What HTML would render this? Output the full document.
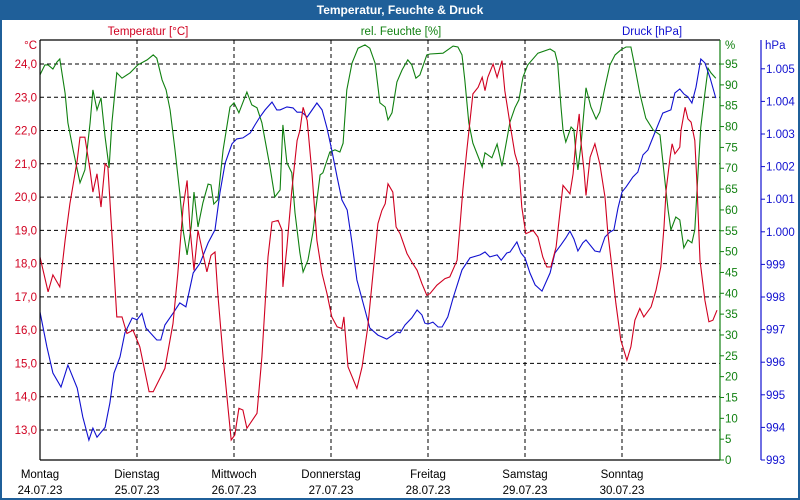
<!DOCTYPE html>
<html><head><meta charset="utf-8"><style>
body{margin:0;background:#fff;}
#wrap{position:relative;width:800px;height:500px;overflow:hidden;}
svg text{font-family:"Liberation Sans",sans-serif;}
</style></head><body>
<div id="wrap">
<svg id="c" width="800" height="500" xmlns="http://www.w3.org/2000/svg">
<rect x="0" y="0" width="800" height="500" fill="#1f5f99"/>
<rect x="2" y="20" width="796" height="478" fill="#fff"/>
<text x="400" y="14" fill="#fff" font-size="12" font-weight="bold" text-anchor="middle">Temperatur, Feuchte &amp; Druck</text>
<text x="148" y="35" fill="#d00020" font-size="11.5" text-anchor="middle">Temperatur [°C]</text>
<text x="401" y="35" fill="#108010" font-size="11.5" text-anchor="middle">rel. Feuchte [%]</text>
<text x="652" y="35" fill="#1010d0" font-size="11.5" text-anchor="middle">Druck [hPa]</text>
<text x="37" y="49" fill="#d00020" font-size="11.5" text-anchor="end">°C</text>
<text x="725" y="49" fill="#108010" font-size="11.5">%</text>
<text x="765" y="49" fill="#1010d0" font-size="11.5">hPa</text>
<g id="grid"></g><g id="series"></g><g id="axes"></g>
</svg>
</div>
<script>
const dayNames=["Montag","Dienstag","Mittwoch","Donnerstag","Freitag","Samstag","Sonntag"];
const dayDates=["24.07.23","25.07.23","26.07.23","27.07.23","28.07.23","29.07.23","30.07.23"];
const tempTicks=[13,14,15,16,17,18,19,20,21,22,23,24];
const humTicks=[0,5,10,15,20,25,30,35,40,45,50,55,60,65,70,75,80,85,90,95];
const presTicks=[993,994,995,996,997,998,999,1000,1001,1002,1003,1004,1005];
const tempHours=[0,2,3.2,4.9,6.2,7.4,9.2,9.9,11.1,12.4,13.1,14.1,15.1,16.1,16.8,17.8,19,20.3,21.5,23,24.7,27,28,30.9,32.9,34.1,35.4,36.4,37.1,38.1,39.1,40.3,41.3,42.3,43.3,44,45.3,46.5,47.3,48.2,49.2,50.2,51.2,53.7,54.9,56.4,57.4,58.9,59.9,60.1,61.1,62.3,63.6,64.3,65.1,66.1,67.3,68.5,69.8,71,72.2,73.5,74.7,75.2,76.2,78.4,79.7,81.1,82.4,83.6,84.6,85.4,86.1,87.3,88.1,89.1,90.8,92,93.3,94.5,95.7,96.5,98.2,100.2,101.4,103.2,103.9,104.6,105.6,107.1,108.4,109.4,110.1,110.8,112.1,113.1,114.3,115,116.3,117.5,118.5,119.2,120.2,122,123.2,124.4,125.4,126.4,127.7,128.6,129.4,131.1,131.9,132.6,133.4,133.8,134.6,135.1,136.1,137.3,138.5,139.8,140.5,141.3,142.5,143.7,145.2,146.2,147.2,148.4,149.4,151.2,152.4,153.6,154.4,154.9,155.9,156.4,157.1,158.3,158.6,159.6,160.3,161.1,162,162.5,163.3,164.5,165.5,166.5,167.5];
const tempValues=[18.2,17.15,17.66,17.3,18.7,19.8,21.1,21.8,21.8,20.8,20.15,20.7,19.7,21.0,20.9,18.9,16.4,16.4,15.9,16.0,15.5,14.15,14.15,14.85,16.2,17.7,19.7,20.5,19.1,17.8,19.0,18.3,17.75,18.25,18.35,17.1,15.2,13.7,12.7,12.85,13.65,13.6,13.05,13.5,15.2,18.2,19.25,19.3,19.0,17.3,18.5,20.2,21.7,22.0,22.7,22.3,20.7,18.7,17.7,17.1,16.4,16.1,16.05,16.4,14.9,14.25,14.9,16.1,17.7,19.2,19.6,19.8,20.4,20.15,19.1,18.9,18.3,18.05,17.8,17.4,17.05,17.1,17.35,17.55,17.6,18.1,19.1,20.2,21.4,23.1,23.3,23.6,23.2,23.6,24.0,23.6,24.1,23.2,22.2,21.3,20.9,19.7,18.9,19.0,18.8,18.2,17.9,17.9,18.5,19.5,20.35,20.1,20.7,21.7,22.5,21.7,20.8,20.05,21.2,21.6,21.0,20.0,18.9,18.1,16.8,15.7,15.1,15.5,16.3,16.65,16.4,16.7,17.2,17.9,19.1,20.2,21.2,21.6,21.3,21.5,22.0,22.7,22.35,22.25,21.7,20.5,18.1,16.9,16.25,16.3,16.6];
const humHours=[0,1.2,2,3.2,4.2,4.9,6.2,6.9,8.2,9.9,11.1,12.4,13.1,14.1,15.1,16.1,17.1,17.8,19,20.3,22.3,24.2,26.5,28,28.9,30.2,31.2,32.2,33.4,34.6,35.4,36.4,37.4,38.1,39.1,40.3,41.6,42.3,43,44,45.3,47,48,49.2,51.2,52.4,53.7,54.9,56.9,58.1,59.4,60.1,61.1,62.3,63.1,64.3,65.1,66.3,67.5,69.3,70,71.7,73,74.2,75,75.9,77.2,78.7,80.4,81.6,82.9,84.1,85.4,86.1,87.1,88.3,89.6,91,92,93,94,95.7,96.5,99.7,102.2,103.4,104.4,105.1,106.1,107.1,109.4,110.1,111.8,113.1,114.3,116.3,117.5,118.5,119.5,120.7,123.2,126.2,127.4,128.1,128.9,129.4,130.1,131.4,132.1,132.6,133.1,133.8,135.1,136.3,137.6,138.5,139.8,141,142.3,143.7,145,146.2,147.2,148.4,149.9,151.7,153.4,154.6,155.4,156.1,157.3,158.3,159.3,160.3,161.3,162,162.8,163.5,164.5,165.3,166,167.2];
const humValues=[92.4,94.8,94.8,93.8,95.5,96.2,88,80.9,74.4,66.5,69.6,80.9,88.8,84,86.9,77.5,70.1,80.9,92.9,91.6,92.9,94.8,96,97.2,96.4,91.2,88.8,84,74.4,64,55.2,49.2,55.9,64.3,55.9,61.7,66.2,66,61.4,62.4,74.4,84.7,85.7,83.3,88.3,85.2,84.5,80.9,70.3,63.1,64.8,80.4,71.3,68.9,59.3,49.7,45.1,48,54.5,68.4,68.9,73.9,74.4,73.9,76,88.8,95.2,98.8,99.6,98.8,95.2,85.7,84.7,81.6,83.3,90.7,93.6,96,94.8,91.6,92.4,97.2,97.4,97.6,99.3,99.1,97.2,91.2,80.9,76,70.3,73.7,72.5,75.8,70.5,81.1,84.5,86.4,91.9,94.8,97.6,98.6,97.9,95.2,84.7,79.2,76.3,79.9,79.2,73.7,69.6,75.1,89.3,84.7,81.8,83.5,89.5,94.8,97.2,98.4,99.1,99.1,94.3,88,82,79.2,78,67.2,60,55.2,58.3,57.6,50.9,52.8,52.1,55.2,68.9,79.9,88,94,92.9,91.6];
const presHours=[0,1.7,3.2,5.2,6.9,9.2,10.6,12.1,13.1,14.1,16.1,17.3,18.3,19.8,21,22.8,24,25.2,26.2,28.9,29.9,30.9,32.9,34.6,36.1,37.9,39.6,41.6,43.3,44.5,45.8,47.5,48.7,50.2,52,53.2,54.4,55.7,57.4,58.6,59.4,61.1,62.6,63.6,64.8,66.1,68.5,69.8,71,72.2,73.5,74.7,76,77.2,78.4,80.4,81.6,83.6,85.8,87.3,88.3,89.1,90.3,92,93.3,94.5,95.2,96,97.2,98.5,99.5,100.9,102.2,104.4,106.4,108.9,110.1,111.3,113.1,114.1,115.5,116.3,118,119,120,121.2,122.5,124.2,126.2,127.4,128.9,130.1,131.1,132.1,133.1,134.3,135.1,137.3,138.5,139.8,141,142,143,144,145,146.7,147.9,149.2,150.4,152.2,154.1,156.1,157.1,158.3,159.3,160.3,161.3,162.3,163.5,164.5,165.8,167.2];
const presValues=[997.54,996.47,995.67,995.24,995.91,995.21,994.32,993.61,993.98,993.7,994.0,994.75,995.67,996.16,996.9,997.36,997.3,997.5,997.05,996.68,996.68,997.14,997.5,997.82,997.7,998.74,999.04,999.66,1000.06,1001.19,1002.1,1002.7,1002.85,1002.88,1003.03,1003.28,1003.52,1003.74,1003.98,1003.74,1003.74,1003.83,1003.8,1003.67,1003.67,1003.52,1003.95,1003.74,1003.18,1002.5,1001.68,1000.98,1000.67,999.66,998.52,997.6,997.05,996.83,996.71,996.83,996.93,996.9,997.14,997.36,997.6,997.45,997.2,997.17,997.23,997.08,997.08,997.39,997.97,998.83,999.2,999.29,999.38,999.23,999.29,999.13,999.35,999.38,999.69,999.35,999.2,998.74,998.37,998.18,998.74,999.35,999.6,999.81,1000.02,999.78,999.41,999.66,999.75,999.41,999.38,999.84,999.99,1000.06,1000.73,1001.22,1001.37,1001.68,1001.83,1002.36,1002.51,1003.06,1003.64,1003.74,1004.26,1004.38,1004.23,1004.14,1003.95,1004.44,1005.3,1005.18,1004.72,1004.1];

const NS="http://www.w3.org/2000/svg";
const X0=40,X1=720,Y0=40,Y1=460;
const xH=h=>X0+h*(97/24);
const yT=t=>64+(24-t)*33.27;
const yHum=v=>460-v*4.168;
const yP=p=>460-(p-993)*32.6;
function mk(tag,attrs,parent){const e=document.createElementNS(NS,tag);for(const k in attrs)e.setAttribute(k,attrs[k]);parent.appendChild(e);return e;}
const grid=document.getElementById('grid'),series=document.getElementById('series'),axes=document.getElementById('axes');

tempTicks.forEach(t=>{
  const l=mk('line',{x1:X0,x2:X1,y1:yT(t),y2:yT(t),stroke:'#000','stroke-dasharray':'4,3','stroke-width':1},grid);
  
  
  const tx=mk('text',{x:37,y:yT(t)+4,fill:'#d00020','font-size':11.5,'text-anchor':'end'},axes);
  tx.textContent=t.toFixed(1).replace('.',',');
  
  
});
for(let d=1;d<7;d++){
  const l=mk('line',{x1:xH(d*24),x2:xH(d*24),y1:Y0,y2:Y1,stroke:'#000','stroke-dasharray':'4,3','stroke-width':1},grid);
  
  
}
dayNames.forEach((n,i)=>{
  const x=xH(i*24);
  const a=mk('text',{x:x,y:478,fill:'#000','font-size':11.5,'text-anchor':'middle'},axes);
  a.textContent=n;
  
  
  const b=mk('text',{x:x,y:494,fill:'#000','font-size':11.5,'text-anchor':'middle'},axes);
  b.textContent=dayDates[i];
  
  
});
humTicks.forEach(v=>{
  const t=mk('line',{x1:X1,x2:X1+4,y1:yHum(v),y2:yHum(v),stroke:'#108010'},axes);
  
  
  const tx=mk('text',{x:725,y:yHum(v)+4,fill:'#108010','font-size':11.5},axes);
  tx.textContent=v;
  
  
});
presTicks.forEach(p=>{
  const t=mk('line',{x1:761,x2:765,y1:yP(p),y2:yP(p),stroke:'#1010d0'},axes);
  
  
  const tx=mk('text',{x:766,y:yP(p)+4,fill:'#1010d0','font-size':11.5},axes);
  tx.textContent=p>=1000?('1.'+String(p-1000).padStart(3,'0')):String(p);
  
  
});
function line(hs,vs,yf,col,name){
  const pts=hs.map((h,i)=>xH(h).toFixed(1)+','+yf(vs[i]).toFixed(1)).join(' ');
  const p=mk('polyline',{points:pts,fill:'none',stroke:col,'stroke-width':1.1},series);
  
  
}
line(humHours,humValues,yHum,'#108010','humidity-line');
line(presHours,presValues,yP,'#1010d0','pressure-line');
line(tempHours,tempValues,yT,'#d00020','temperature-line');
const ax=[[X0,Y0,X1,Y0,'#000','plot-top-border'],[X0,Y0,X0,Y1,'#000','temperature-axis'],[X0,Y1,X1,Y1,'#000','x-axis'],[X1,Y0,X1,Y1,'#108010','humidity-axis'],[761,Y0,761,Y1,'#1010d0','pressure-axis']];
ax.forEach(a=>{
  const l=mk('line',{x1:a[0],y1:a[1],x2:a[2],y2:a[3],stroke:a[4],'stroke-width':1.2},axes);
  
  
});
</script>
</body></html>
